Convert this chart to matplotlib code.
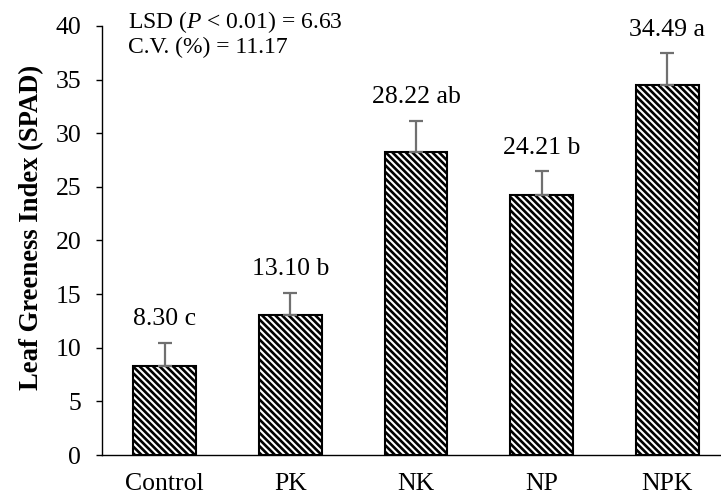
import numpy as np
import matplotlib
matplotlib.use("Agg")
import matplotlib.pyplot as plt

plt.rcParams['font.family'] = ['Liberation Serif', 'DejaVu Serif']
plt.rcParams['mathtext.fontset'] = 'custom'
plt.rcParams['mathtext.rm'] = 'Liberation Serif'
plt.rcParams['mathtext.it'] = 'Liberation Serif:italic'
plt.rcParams['hatch.linewidth'] = 1.9
plt.rcParams['hatch.color'] = 'black'

treatments = ['Control', 'PK', 'NK', 'NP', 'NPK']
spad = [8.30, 13.10, 28.22, 24.21, 34.49]
errors = [2.15, 2.0, 2.95, 2.25, 2.95]
letters = ['c', 'b', 'ab', 'b', 'a']
yticks = [0, 5, 10, 15, 20, 25, 30, 35, 40]

fig = plt.figure(figsize=(7.21, 4.97), dpi=100)
# axes runs a little past the right edge like the original
ax = fig.add_axes([102/721, 42/497, 628/721, 429/497])

x = np.arange(len(treatments))
ax.bar(x, spad, width=0.5, color='white', edgecolor='black', linewidth=1.5,
       hatch='\\' * 5, zorder=2)
ax.errorbar(x, spad, yerr=[np.zeros(len(errors)), errors], fmt='none',
            ecolor='#707070', elinewidth=1.6, capsize=5, capthick=1.6, zorder=3)

for xi, v, e, l in zip(x, spad, errors, letters):
    ax.annotate(f'{v:.2f} {l}', (xi, v + e), xytext=(0, 17),
                textcoords='offset points', ha='center', va='center', fontsize=18.5)

ax.set_xlim(-0.5, 4.5)
ax.set_ylim(0, 40)
ax.set_yticks(yticks)
ax.set_xticks(x)
ax.set_xticklabels(treatments)
ax.tick_params(axis='x', length=0, pad=13, labelsize=18.5)
ax.tick_params(axis='y', length=4, width=1, pad=11, labelsize=18.5)
ax.spines['top'].set_visible(False)
ax.spines['right'].set_visible(False)
ax.spines['left'].set_linewidth(1)
ax.spines['bottom'].set_linewidth(1)
ax.set_ylabel('Leaf Greeness Index (SPAD)', fontsize=19.2, fontweight='bold')
ax.yaxis.set_label_coords(-0.092, 0.53)

ax.text(128/721, 1 - 22/497, r'LSD ($\mathit{P}$ < 0.01) = 6.63', transform=fig.transFigure,
        fontsize=17, va='center', ha='left')
ax.text(128/721, 1 - 47/497, 'C.V. (%) = 11.17', transform=fig.transFigure,
        fontsize=17, va='center', ha='left')

fig.savefig('out.png', dpi=100)
